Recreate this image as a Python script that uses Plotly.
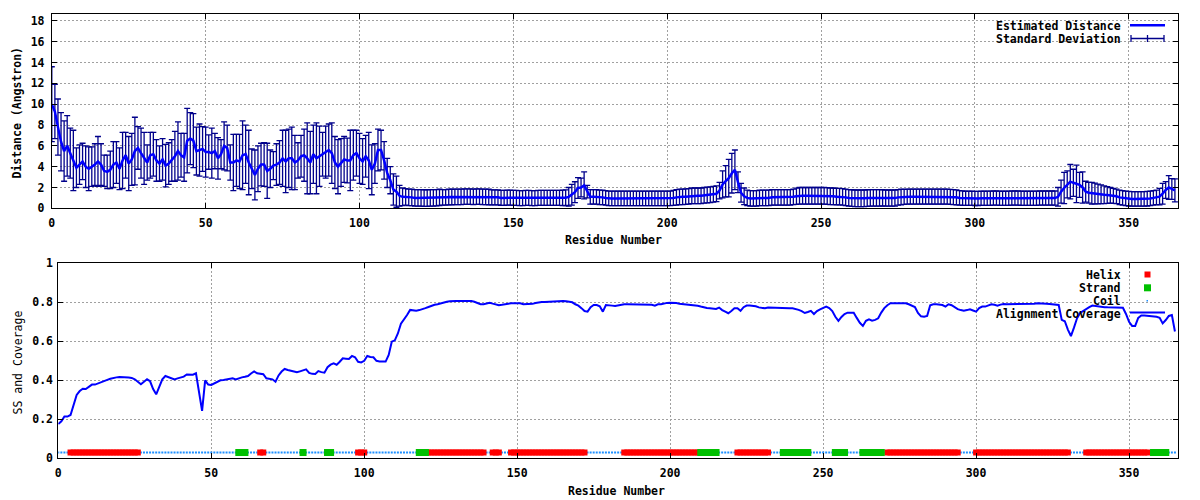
import plotly.graph_objects as go

# ---------------- data ----------------
residues = list(range(0, 366))

distance = [
    10.0, 9.3, 7.8, 6.4, 5.5, 6.0, 5.3, 4.6, 3.9, 4.2,
    4.5, 4.0, 3.8, 4.0, 4.2, 4.5, 4.2, 3.6, 3.5, 3.7,
    4.2, 4.4, 3.8, 4.6, 5.1, 4.3, 4.7, 5.5, 5.8, 5.3,
    4.8, 4.4, 5.1, 5.2, 4.6, 4.3, 4.7, 4.1, 4.3, 4.6,
    5.0, 5.5, 5.1, 4.9, 6.5, 6.7, 6.5, 5.5, 5.6, 5.7,
    5.4, 5.4, 5.3, 5.5, 4.8, 5.2, 6.0, 5.8, 4.4, 4.4,
    4.6, 4.5, 5.1, 5.2, 4.4, 3.8, 3.2, 3.8, 4.2, 4.2,
    3.6, 3.8, 4.1, 4.2, 4.4, 4.8, 4.5, 4.8, 4.8, 4.4,
    4.6, 5.0, 5.1, 4.8, 4.4, 5.2, 4.8, 5.0, 5.2, 5.4,
    5.6, 5.3, 4.4, 4.0, 4.4, 4.7, 4.6, 4.6, 5.1, 5.3,
    4.8, 4.5, 5.0, 4.6, 3.7, 4.3, 5.6, 5.6, 4.6, 3.4,
    2.7, 1.8, 1.6, 1.2, 1.1, 1.1, 1.05, 1.05, 1.0, 1.0,
    1.0, 0.98, 0.98, 1.0, 1.0, 1.02, 1.05, 1.05, 1.05, 1.08,
    1.08, 1.1, 1.1, 1.1, 1.12, 1.12, 1.12, 1.1, 1.12, 1.12,
    1.1, 1.1, 1.08, 1.05, 1.05, 1.05, 1.0, 1.0, 1.02, 1.02,
    1.0, 1.0, 0.98, 0.98, 1.0, 1.0, 0.98, 0.98, 1.0, 1.0,
    1.0, 1.0, 1.0, 1.0, 1.0, 1.0, 1.0, 1.02, 1.1, 1.3,
    1.55, 1.95, 2.0, 2.2, 1.6, 1.1, 1.1, 1.1, 1.05, 1.05,
    1.0, 0.95, 0.95, 0.95, 0.95, 0.95, 0.95, 0.95, 0.95, 0.95,
    0.95, 0.95, 0.95, 0.95, 0.95, 0.95, 0.95, 0.95, 0.95, 0.95,
    0.95, 0.95, 1.0, 1.05, 1.1, 1.1, 1.12, 1.15, 1.2, 1.2,
    1.2, 1.2, 1.25, 1.28, 1.3, 1.35, 1.4, 1.7, 2.3, 2.6,
    2.9, 3.37, 3.7, 2.5, 1.5, 1.15, 1.0, 0.95, 0.95, 0.95,
    1.0, 1.0, 1.0, 1.0, 1.05, 1.05, 1.05, 1.05, 1.05, 1.05,
    1.05, 1.1, 1.15, 1.2, 1.2, 1.2, 1.2, 1.2, 1.2, 1.2,
    1.2, 1.2, 1.18, 1.15, 1.15, 1.12, 1.12, 1.1, 1.05, 1.0,
    0.98, 0.96, 0.96, 0.96, 0.96, 0.98, 1.0, 1.0, 1.0, 1.0,
    1.0, 0.98, 0.98, 0.98, 0.98, 1.05, 1.08, 1.1, 1.12, 1.12,
    1.12, 1.12, 1.12, 1.12, 1.12, 1.12, 1.12, 1.12, 1.12, 1.12,
    1.12, 1.12, 1.1, 1.08, 1.05, 1.0, 0.98, 0.96, 0.96, 0.96,
    0.95, 0.95, 0.96, 0.96, 0.97, 0.97, 0.98, 0.98, 0.97, 0.96,
    0.96, 0.97, 0.98, 0.98, 0.98, 0.97, 0.96, 0.96, 0.96, 0.97,
    0.97, 0.98, 0.98, 0.98, 0.98, 0.98, 0.98, 1.1, 1.6, 1.95,
    2.3, 2.56, 2.45, 2.35, 2.25, 2.0, 1.6, 1.5, 1.45, 1.42,
    1.38, 1.35, 1.3, 1.28, 1.25, 1.2, 1.15, 1.05, 1.0, 0.95,
    0.92, 0.9, 0.9, 0.9, 0.9, 0.9, 0.92, 0.95, 1.0, 1.05,
    1.12, 1.4, 1.76, 2.0, 1.86, 1.72,
]

std_dev = [
    3.6, 2.6, 2.7, 2.8, 2.9, 2.9, 2.4, 2.9, 1.9, 1.9,
    1.75, 2.0, 2.1, 1.9, 2.0, 2.4, 2.0, 1.5, 1.6, 1.8,
    2.2, 2.0, 2.0, 2.7, 2.2, 2.6, 2.5, 3.25, 2.05, 2.4,
    2.5, 1.7, 2.2, 2.1, 2.0, 1.7, 2.0, 2.05, 2.0, 2.0,
    2.4, 2.8, 2.1, 2.3, 3.1, 2.5, 2.6, 2.3, 2.5, 2.15,
    2.4, 1.65, 2.4, 1.7, 2.0, 1.4, 2.3, 2.2, 1.7, 2.7,
    2.5, 2.6, 3.3, 2.8, 3.1, 1.9, 2.4, 2.2, 2.05, 2.1,
    2.65, 1.8, 1.35, 2.0, 2.1, 2.7, 3.0, 2.8, 3.0, 2.6,
    1.7, 2.0, 2.5, 3.4, 3.0, 2.8, 3.4, 2.9, 2.1, 2.5,
    2.5, 2.9, 2.5, 2.6, 2.3, 2.2, 2.15, 2.9, 2.4, 2.2,
    2.4, 2.2, 2.0, 2.7, 2.4, 1.9, 2.0, 1.9, 1.8, 1.4,
    1.3, 1.5, 1.5, 1.0, 0.85, 0.8, 0.8, 0.8, 0.8, 0.8,
    0.8, 0.8, 0.8, 0.8, 0.8, 0.78, 0.78, 0.75, 0.75, 0.75,
    0.75, 0.75, 0.75, 0.75, 0.75, 0.75, 0.75, 0.75, 0.75, 0.75,
    0.75, 0.75, 0.75, 0.72, 0.72, 0.72, 0.72, 0.72, 0.72, 0.72,
    0.72, 0.72, 0.72, 0.72, 0.72, 0.72, 0.72, 0.72, 0.72, 0.72,
    0.72, 0.72, 0.72, 0.72, 0.72, 0.72, 0.75, 0.75, 0.9, 1.0,
    1.0, 1.0, 0.9, 1.3, 0.6, 0.7, 0.7, 0.7, 0.7, 0.7,
    0.7, 0.7, 0.7, 0.7, 0.7, 0.7, 0.7, 0.7, 0.7, 0.7,
    0.7, 0.7, 0.7, 0.7, 0.7, 0.7, 0.7, 0.7, 0.7, 0.7,
    0.7, 0.7, 0.72, 0.75, 0.75, 0.75, 0.75, 0.75, 0.75, 0.75,
    0.75, 0.75, 0.75, 0.75, 0.75, 0.75, 0.75, 0.8, 1.3, 1.5,
    1.8, 1.9, 1.9, 1.0, 0.9, 0.8, 0.75, 0.75, 0.75, 0.75,
    0.75, 0.75, 0.75, 0.75, 0.75, 0.75, 0.75, 0.75, 0.75, 0.75,
    0.75, 0.75, 0.78, 0.8, 0.8, 0.8, 0.8, 0.8, 0.8, 0.8,
    0.8, 0.8, 0.8, 0.8, 0.8, 0.8, 0.8, 0.8, 0.8, 0.8,
    0.8, 0.8, 0.8, 0.8, 0.8, 0.8, 0.8, 0.8, 0.8, 0.8,
    0.78, 0.78, 0.78, 0.78, 0.78, 0.75, 0.75, 0.72, 0.72, 0.72,
    0.72, 0.72, 0.72, 0.72, 0.72, 0.72, 0.72, 0.72, 0.72, 0.72,
    0.72, 0.72, 0.72, 0.72, 0.72, 0.7, 0.7, 0.68, 0.68, 0.68,
    0.68, 0.68, 0.68, 0.68, 0.68, 0.68, 0.68, 0.68, 0.68, 0.68,
    0.68, 0.68, 0.68, 0.68, 0.68, 0.68, 0.68, 0.68, 0.68, 0.68,
    0.68, 0.68, 0.68, 0.68, 0.68, 0.68, 0.68, 0.9, 1.1, 1.5,
    1.3, 1.65, 1.3, 1.8, 1.2, 1.5, 1.0, 1.0, 1.05, 1.0,
    0.95, 0.9, 0.85, 0.8, 0.75, 0.72, 0.7, 0.7, 0.7, 0.7,
    0.7, 0.7, 0.7, 0.7, 0.7, 0.7, 0.7, 0.7, 0.7, 0.7,
    0.8, 1.0, 0.8, 1.14, 1.0, 1.1,
]

coverage = [
    0.176, 0.19, 0.214, 0.214, 0.222, 0.28, 0.325, 0.345, 0.357, 0.355,
    0.365, 0.378, 0.378, 0.385, 0.392, 0.397, 0.402, 0.408, 0.413, 0.415,
    0.417, 0.417, 0.415, 0.414, 0.412, 0.405, 0.393, 0.38, 0.393, 0.405,
    0.395, 0.355, 0.328, 0.37, 0.405, 0.422, 0.416, 0.41, 0.405, 0.41,
    0.415, 0.419, 0.43, 0.43, 0.429, 0.436, 0.34, 0.243, 0.40, 0.378,
    0.376, 0.385, 0.392, 0.4, 0.402, 0.404, 0.405, 0.41, 0.405, 0.412,
    0.415, 0.418, 0.422, 0.435, 0.446, 0.436, 0.433, 0.431, 0.41, 0.407,
    0.405, 0.393, 0.425, 0.445, 0.458, 0.453, 0.45, 0.446, 0.441, 0.446,
    0.45, 0.456, 0.438, 0.433, 0.432, 0.447, 0.442, 0.439, 0.467, 0.48,
    0.487, 0.48, 0.495, 0.513, 0.511, 0.509, 0.525, 0.518, 0.495, 0.492,
    0.5, 0.525, 0.52, 0.518, 0.5, 0.496, 0.496, 0.496, 0.53, 0.598,
    0.605, 0.64, 0.69, 0.71, 0.735, 0.761, 0.758, 0.757, 0.76, 0.764,
    0.77, 0.776, 0.783, 0.787, 0.79, 0.795, 0.8, 0.803, 0.805, 0.807,
    0.807, 0.807, 0.807, 0.807, 0.807, 0.807, 0.803, 0.798, 0.79, 0.79,
    0.795, 0.798, 0.793, 0.79, 0.785, 0.787, 0.79, 0.795, 0.795, 0.795,
    0.795, 0.795, 0.79, 0.79, 0.79, 0.792, 0.796, 0.8, 0.801, 0.802,
    0.803, 0.803, 0.805, 0.807, 0.805, 0.807, 0.805, 0.802, 0.8, 0.79,
    0.783, 0.77, 0.755, 0.752, 0.775, 0.786, 0.786, 0.78, 0.752, 0.786,
    0.786, 0.783, 0.781, 0.785, 0.786, 0.79, 0.79, 0.79, 0.79, 0.79,
    0.79, 0.79, 0.79, 0.79, 0.787, 0.783, 0.79, 0.79, 0.795, 0.797,
    0.798, 0.798, 0.796, 0.793, 0.791, 0.79, 0.79, 0.788, 0.786, 0.782,
    0.778, 0.774, 0.771, 0.77, 0.768, 0.766, 0.773, 0.76, 0.752, 0.744,
    0.755, 0.769, 0.769, 0.756, 0.775, 0.783, 0.783, 0.783, 0.78, 0.774,
    0.772, 0.769, 0.773, 0.773, 0.773, 0.773, 0.772, 0.772, 0.771, 0.77,
    0.769, 0.766, 0.761, 0.755, 0.745, 0.75, 0.756, 0.74, 0.755, 0.764,
    0.772, 0.778, 0.77, 0.755, 0.726, 0.705, 0.725, 0.74, 0.747, 0.747,
    0.747, 0.72, 0.695, 0.679, 0.705, 0.713, 0.706, 0.71, 0.718, 0.747,
    0.77, 0.785, 0.795, 0.795, 0.795, 0.795, 0.795, 0.795, 0.79, 0.783,
    0.776, 0.745, 0.728, 0.726, 0.73, 0.785, 0.79, 0.79, 0.788, 0.786,
    0.778, 0.79, 0.785, 0.775, 0.765, 0.76, 0.757, 0.76, 0.764, 0.758,
    0.752, 0.77, 0.778, 0.778, 0.785, 0.79, 0.787, 0.783, 0.788, 0.791,
    0.79, 0.79, 0.79, 0.79, 0.79, 0.79, 0.79, 0.79, 0.79, 0.793,
    0.795, 0.795, 0.794, 0.792, 0.791, 0.79, 0.788, 0.786, 0.71, 0.703,
    0.66, 0.627, 0.67, 0.718, 0.745, 0.756, 0.764, 0.775, 0.783, 0.78,
    0.778, 0.777, 0.775, 0.774, 0.774, 0.774, 0.774, 0.774, 0.772, 0.74,
    0.7, 0.679, 0.679, 0.72, 0.732, 0.732, 0.731, 0.731, 0.73, 0.726,
    0.721, 0.692, 0.709, 0.73, 0.735, 0.65,
]

helix_ranges = [(4, 26), (66, 67), (98, 100), (121, 139), (142, 144), (148, 172),
                (185, 209), (222, 232), (271, 294), (300, 330), (336, 356)]
strand_ranges = [(59, 61), (80, 80), (88, 89), (118, 120), (210, 215), (237, 245),
                 (254, 257), (263, 269), (358, 362)]
ss_level = 0.03

x_ticks = [0, 50, 100, 150, 200, 250, 300, 350]
dist_ticks = [0, 2, 4, 6, 8, 10, 12, 14, 16, 18]
cov_ticks = [0, 0.2, 0.4, 0.6, 0.8, 1]

# ---------------- derived ----------------
helix_res = [r for a, b in helix_ranges for r in range(a, b + 1)]
strand_res = [r for a, b in strand_ranges for r in range(a, b + 1)]
ss_set = set(helix_res) | set(strand_res)
coil_res = [r for r in residues if r not in ss_set]

W, H = 1200, 500
OFF = 8  # page body margin of the html page
FONT = "DejaVu Sans Mono"
BLUE = "#0000ff"
NAVY = "#00008b"
RED = "#ff0000"
GREEN = "#00c000"
COIL = "#1e90ff"
GRID = "#a0a0a0"

fig = go.Figure()

# top: error bars then line
fig.add_trace(go.Scatter(
    x=residues, y=distance, mode="markers", marker=dict(size=0.1, color=NAVY, opacity=0),
    error_y=dict(type="data", array=std_dev, visible=True, color=NAVY, thickness=1.3, width=3),
    xaxis="x", yaxis="y", showlegend=False, hoverinfo="skip"))
fig.add_trace(go.Scatter(
    x=residues, y=distance, mode="lines", line=dict(color=BLUE, width=2.5),
    xaxis="x", yaxis="y", showlegend=False))

# bottom: SS and coverage
fig.add_trace(go.Scatter(
    x=coil_res, y=[ss_level] * len(coil_res), mode="markers",
    marker=dict(symbol="square", size=2, color=COIL, line=dict(width=0)),
    xaxis="x2", yaxis="y2", showlegend=False))
fig.add_trace(go.Scatter(
    x=helix_res, y=[ss_level] * len(helix_res), mode="markers",
    marker=dict(symbol="square", size=6, color=RED, line=dict(width=0)),
    xaxis="x2", yaxis="y2", showlegend=False))
fig.add_trace(go.Scatter(
    x=strand_res, y=[ss_level] * len(strand_res), mode="markers",
    marker=dict(symbol="square", size=7, color=GREEN, line=dict(width=0)),
    xaxis="x2", yaxis="y2", showlegend=False))
fig.add_trace(go.Scatter(
    x=residues, y=coverage, mode="lines", line=dict(color=BLUE, width=2),
    xaxis="x2", yaxis="y2", showlegend=False))

tickfont = dict(family=FONT, size=11.5, color="black", weight="bold")
common_axis = dict(
    showline=True, linecolor="black", linewidth=1, mirror="allticks",
    ticks="inside", ticklen=5, tickcolor="black", tickwidth=1,
    showgrid=True, gridcolor=GRID, gridwidth=1, griddash="2px,2px",
    zeroline=False, tickfont=tickfont, automargin=False,
)

def px(x):
    return (x - OFF) / W

def py(y):
    return 1 - (y - OFF) / H

fig.update_layout(
    width=W, height=H, margin=dict(l=0, r=0, t=0, b=0, autoexpand=False),
    paper_bgcolor="white", plot_bgcolor="white",
    showlegend=False,
    xaxis=dict(domain=[px(51.8), px(1178)], range=[0, 366], tickvals=x_ticks,
               anchor="y", ticklabelstandoff=4, **common_axis),
    yaxis=dict(domain=[py(208.3), py(14.3)], range=[0, 18.64], tickvals=dist_ticks,
               anchor="x", ticklabelstandoff=4, **common_axis),
    xaxis2=dict(domain=[px(58.3), px(1178)], range=[0, 366], tickvals=x_ticks,
                anchor="y2", ticklabelstandoff=4, **common_axis),
    yaxis2=dict(domain=[py(458.3), py(263.3)], range=[0, 1], tickvals=cov_ticks,
                anchor="x2", ticklabelstandoff=2, **common_axis),
)

bold = dict(family=FONT, size=11.5, color="black", weight="bold")
normal = dict(family=FONT, size=11.5, color="black")

ann = []
ann.append(dict(text="Residue Number", x=px(613), y=py(240), font=bold))
ann.append(dict(text="Residue Number", x=px(617), y=py(490.5), font=bold))
ann.append(dict(text="Distance (Angstron)", x=px(OFF), y=py(112.5), font=bold,
                textangle=-90, xanchor="left"))
ann.append(dict(text="SS and Coverage", x=px(OFF), y=py(362.5), font=normal,
                textangle=-90, xanchor="left"))
for txt, yy in [("Estimated Distance", 25.7), ("Standard Deviation", 39.0)]:
    ann.append(dict(text=txt, x=px(1123), y=py(yy), xanchor="right", font=bold))
for txt, yy in [("Helix", 275.0), ("Strand", 287.8), ("Coil", 300.8), ("Alignment Coverage", 314.0)]:
    ann.append(dict(text=txt, x=px(1123), y=py(yy), xanchor="right", font=bold))
for a in ann:
    a.update(xref="paper", yref="paper", showarrow=False)
    a.setdefault("xanchor", "center")
    a.setdefault("yanchor", "middle")
fig.update_layout(annotations=ann)

shapes = []
def seg(x0, y0, x1, y1, color, width):
    shapes.append(dict(type="line", xref="paper", yref="paper",
                       x0=px(x0), y0=py(y0), x1=px(x1), y1=py(y1),
                       line=dict(color=color, width=width)))
def box(x0, y0, x1, y1, color):
    shapes.append(dict(type="rect", xref="paper", yref="paper",
                       x0=px(x0), y0=py(y0), x1=px(x1), y1=py(y1),
                       fillcolor=color, line=dict(width=0)))

seg(1130, 25.2, 1165, 25.2, BLUE, 2.5)
seg(1131, 38.5, 1164, 38.5, NAVY, 1.3)
for xx in (1131, 1147.5, 1164):
    seg(xx, 35.0, xx, 42.0, NAVY, 1.3)
box(1144.5, 271.5, 1150.5, 277.5, RED)
box(1144, 284.3, 1151, 291.3, GREEN)
box(1146.5, 300, 1148, 301.5, COIL)
seg(1130, 312.5, 1165, 312.5, BLUE, 2)
fig.update_layout(shapes=shapes)

fig.write_html("out.html")
